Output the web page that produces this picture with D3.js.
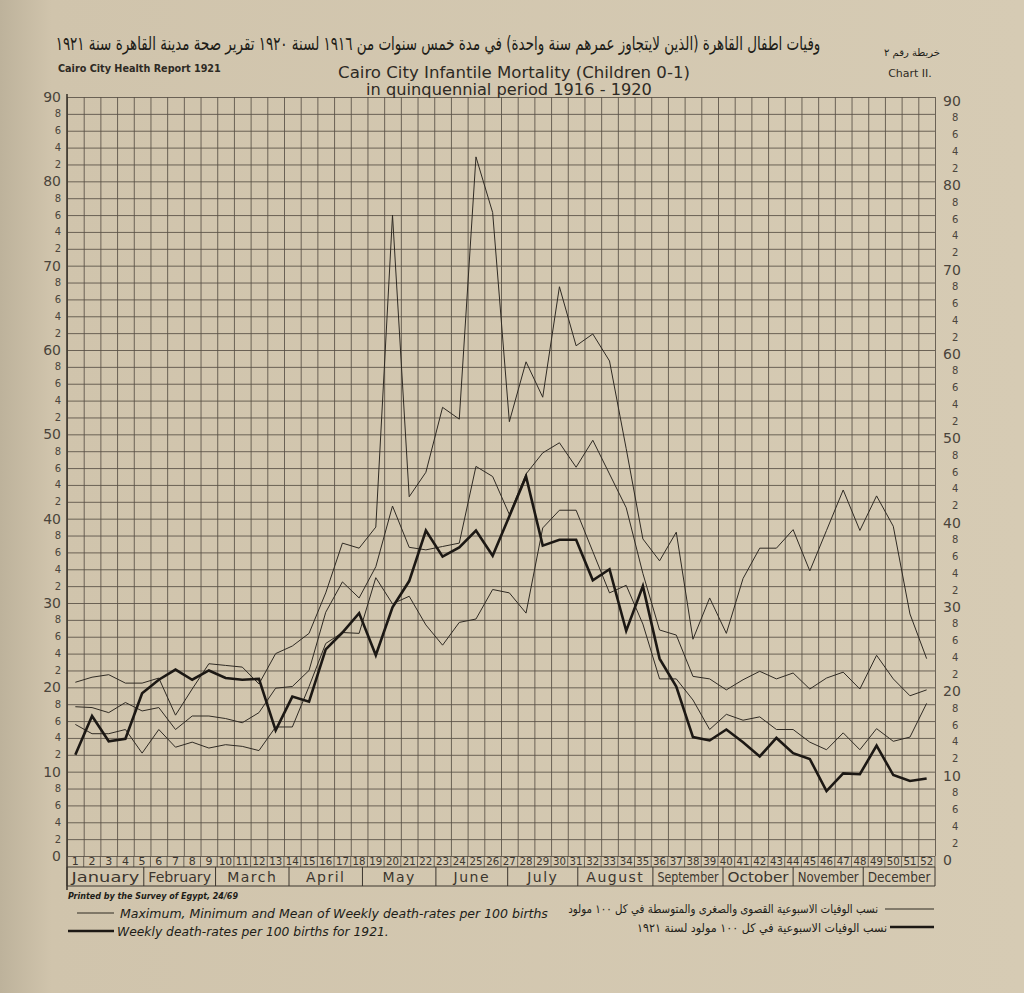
<!DOCTYPE html>
<html>
<head>
<meta charset="utf-8">
<script src="https://cdn.jsdelivr.net/npm/d3@7/dist/d3.min.js"></script>
<style>
  body { margin: 0; background: #d3c7af; }
  svg { display: block; }
  .grid line { stroke: #574f45; stroke-width: 0.85; }
  .grid path { display: none; }
  .ylab { font-family: "DejaVu Sans", sans-serif; fill: #4a443b; }
  .wk { font-family: "DejaVu Sans", sans-serif; font-size: 11px; fill: #3c362e; }
  .mon { font-family: "DejaVu Sans", sans-serif; font-size: 14px; fill: #3c362e; }
  .ttl { font-family: "DejaVu Sans", sans-serif; fill: #2e2a24; }
  .ar { font-family: "DejaVu Sans", sans-serif; fill: #201c17; }
  .leg { font-family: "DejaVu Sans", sans-serif; font-style: italic; fill: #201c17; }
</style>
</head>
<body>
<script>
const W = 1024, H = 993;
const LEFT = 67, RIGHT = 935, TOP = 97, BOTTOM = 856;

// weekly death-rates per 100 births, weeks 1..52
var weeks = d3.range(1, 53);
var maxRate = [20.6, 21.2, 21.5, 20.5, 20.5, 21.1, 16.7, 19.8, 22.8, 22.6,
  22.4, 20.4, 24.0, 24.9, 26.4, 31.2, 37.1, 36.5, 39.0, 76.0,
  42.6, 45.5, 53.2, 51.8, 82.9, 76.3, 51.5, 58.6, 54.4, 67.5,
  60.5, 61.9, 58.7, 48.3, 37.6, 35.0, 38.4, 25.7, 30.6, 26.4,
  32.9, 36.5, 36.5, 38.7, 33.8, 38.6, 43.4, 38.6, 42.7, 39.1,
  28.7, 23.4];
var meanRate = [17.7, 17.6, 17.0, 18.2, 17.2, 17.6, 15.0, 16.6, 16.6, 16.3,
  15.8, 17.0, 19.9, 20.1, 22.0, 28.9, 32.5, 30.6, 34.3, 41.5,
  36.6, 36.3, 36.7, 37.1, 46.2, 45.0, 40.5, 45.3, 47.8, 49.0,
  46.1, 49.3, 45.3, 41.3, 33.5, 26.8, 26.2, 21.3, 21.0, 19.7,
  20.9, 21.9, 21.0, 21.7, 19.8, 21.1, 21.8, 19.8, 23.8, 21.0,
  19.0, 19.7];
var minRate = [15.6, 14.5, 14.5, 15.0, 12.2, 15.0, 12.9, 13.5, 12.8, 13.2,
  13.0, 12.5, 15.3, 15.3, 20.1, 25.2, 26.5, 26.4, 33.0, 29.9,
  30.8, 27.4, 25.0, 27.7, 28.1, 31.6, 31.2, 28.8, 38.9, 41.0,
  41.0, 36.1, 31.2, 32.1, 27.5, 21.0, 21.0, 18.5, 15.0, 16.8,
  16.1, 16.5, 15.0, 15.0, 13.5, 12.6, 14.6, 12.6, 15.1, 13.6,
  14.1, 18.1];
var rate1921 = [12.0, 16.6, 13.6, 13.9, 19.3, 20.9, 22.1, 20.9, 22.0, 21.1,
  20.9, 21.0, 14.9, 18.9, 18.3, 24.5, 26.5, 28.8, 23.8, 29.5,
  32.6, 38.6, 35.5, 36.6, 38.6, 35.6, 40.3, 45.0, 36.8, 37.5,
  37.5, 32.7, 34.0, 26.7, 32.0, 23.4, 20.1, 14.1, 13.7, 15.0,
  13.5, 11.8, 14.0, 12.2, 11.5, 7.7, 9.8, 9.7, 13.1, 9.6,
  8.9, 9.2];

var months = ["January", "February", "March", "April", "May", "June", "July",
  "August", "September", "October", "November", "December"];
// month boundaries on the week scale, as drawn on the chart
var monthEdges = [0, 4.6, 8.9, 13.3, 17.7, 22.1, 26.4, 30.6, 35.1, 39.3, 43.5, 47.7, 52];
var yTicks = d3.range(0, 91, 2);

var svg = d3.select("body").append("svg")
  .attr("width", W)
  .attr("height", H);

// squeeze a text horizontally (about its x) so it is no wider than w
var fit = (sel, w) => {
  sel.each(function (d, i) {
    var node = d3.select(this);
    var width = typeof w === "function" ? w(d, i) : w;
    var len = this.getComputedTextLength();
    var k = width / len;
    var x0 = +node.attr("x");
    node.attr("transform", `translate(${x0},0) scale(${k},1) translate(${-x0},0)`);
  });
  return sel;
};

// paper
var grad = svg.append("defs").append("linearGradient").attr("id", "paper");
grad.append("stop").attr("offset", "0%").attr("stop-color", "#bdb29b");
grad.append("stop").attr("offset", "5%").attr("stop-color", "#d0c4ac");
grad.append("stop").attr("offset", "100%").attr("stop-color", "#d6cbb4");
svg.append("rect").attr("width", W).attr("height", H).attr("fill", "url(#paper)");

var x = d3.scaleLinear().domain([0, 52]).range([LEFT, RIGHT]);
var y = d3.scaleLinear().domain([0, 90]).range([BOTTOM, TOP]);
var xc = w => x(w - 0.5);

// grid
svg.append("g")
  .attr("class", "grid")
  .attr("transform", `translate(0,${BOTTOM})`)
  .call(d3.axisBottom(x).tickValues(d3.range(0, 53)).tickSize(-(BOTTOM - TOP)).tickFormat(""));
svg.append("g")
  .attr("class", "grid")
  .attr("transform", `translate(${LEFT},0)`)
  .call(d3.axisLeft(y).tickValues(yTicks).tickSize(-(RIGHT - LEFT)).tickFormat(""));

svg.append("line")
  .attr("x1", LEFT).attr("x2", LEFT).attr("y1", TOP - 3).attr("y2", 890)
  .attr("stroke", "#3c362e").attr("stroke-width", 1.6);

// y labels on both sides
var lab = v => v % 10 === 0 ? String(v) : String(v % 10);
var fs = v => v % 10 === 0 ? 14 : 10;
svg.selectAll("text.yl")
  .data(yTicks)
  .enter()
  .append("text")
  .attr("class", "ylab yl")
  .attr("x", LEFT - 6)
  .attr("y", d => y(d))
  .attr("dy", "0.35em")
  .attr("text-anchor", "end")
  .attr("font-size", fs)
  .text(lab);
svg.selectAll("text.yr")
  .data(yTicks)
  .enter()
  .append("text")
  .attr("class", "ylab yr")
  .attr("x", d => d % 10 === 0 ? RIGHT + 8 : RIGHT + 17)
  .attr("y", d => y(d) + 4)
  .attr("dy", "0.35em")
  .attr("text-anchor", "start")
  .attr("font-size", fs)
  .text(lab);

// week row
var WK_TOP = BOTTOM, WK_BOT = 867, MON_BOT = 886;
svg.selectAll("line.wkb")
  .data(d3.range(0, 53))
  .enter()
  .append("line")
  .attr("x1", d => x(d)).attr("x2", d => x(d))
  .attr("y1", WK_TOP).attr("y2", WK_BOT)
  .attr("stroke", "#574f45").attr("stroke-width", 0.85);
svg.selectAll("text.wk")
  .data(weeks)
  .enter()
  .append("text")
  .attr("class", "wk")
  .attr("x", d => xc(d))
  .attr("y", WK_BOT - 2)
  .attr("text-anchor", "middle")
  .text(d => d)
  .filter(d => d > 9)
  .call(fit, 13);

// month row
svg.append("line")
  .attr("x1", LEFT).attr("x2", RIGHT).attr("y1", WK_BOT).attr("y2", WK_BOT)
  .attr("stroke", "#3c362e").attr("stroke-width", 1);
svg.append("line")
  .attr("x1", LEFT).attr("x2", RIGHT).attr("y1", MON_BOT).attr("y2", MON_BOT)
  .attr("stroke", "#3c362e").attr("stroke-width", 1.2);
svg.selectAll("line.mb")
  .data(monthEdges)
  .enter()
  .append("line")
  .attr("x1", d => x(d)).attr("x2", d => x(d))
  .attr("y1", WK_BOT).attr("y2", MON_BOT)
  .attr("stroke", "#3c362e").attr("stroke-width", 1);
var cellW = i => x(monthEdges[i + 1]) - x(monthEdges[i]);
svg.selectAll("text.mon")
  .data(months)
  .enter()
  .append("text")
  .attr("class", "mon")
  .attr("x", (d, i) => (x(monthEdges[i]) + x(monthEdges[i + 1])) / 2)
  .attr("y", MON_BOT - 4)
  .attr("text-anchor", "middle")
  .attr("letter-spacing", d => d.length <= 6 ? "1.5px" : null)
  .text(d => d)
  .filter(d => d.length >= 7)
  .call(fit, (d) => cellW(months.indexOf(d)) - 9);

// series
var line = d3.line().x((d, i) => xc(weeks[i])).y(d => y(d));
[maxRate, meanRate, minRate].forEach(s => {
  svg.append("path")
    .datum(s)
    .attr("d", line)
    .attr("fill", "none")
    .attr("stroke", "#2f2a23")
    .attr("stroke-width", 1)
    .attr("stroke-linejoin", "miter");
});
svg.append("path")
  .datum(rate1921)
  .attr("d", line)
  .attr("fill", "none")
  .attr("stroke", "#1c1814")
  .attr("stroke-width", 2.6)
  .attr("stroke-linejoin", "miter");

// titles
svg.append("text").attr("class", "ar")
  .attr("x", 438).attr("y", 50).attr("text-anchor", "middle")
  .attr("font-size", 19).attr("direction", "rtl")
  .text("وفيات اطفال القاهرة (الذين لايتجاوز عمرهم سنة واحدة) في مدة خمس سنوات من ١٩١٦ لسنة ١٩٢٠ تقرير صحة مدينة القاهرة سنة ١٩٢١")
  .call(fit, 765);
svg.append("text").attr("class", "ar")
  .attr("x", 912).attr("y", 56).attr("text-anchor", "middle")
  .attr("font-size", 10).attr("direction", "rtl")
  .text("خريطة رقم ٢");
svg.append("text").attr("class", "ttl")
  .attr("x", 58).attr("y", 72).attr("font-size", 11).attr("font-weight", "bold")
  .text("Cairo City Health Report 1921")
  .call(fit, 163);
svg.append("text").attr("class", "ttl")
  .attr("x", 910).attr("y", 77).attr("font-size", 11).attr("text-anchor", "middle")
  .text("Chart II.");
svg.append("text").attr("class", "ttl")
  .attr("x", 514).attr("y", 78).attr("font-size", 16).attr("text-anchor", "middle")
  .text("Cairo City Infantile Mortality (Children 0-1)")
  .call(fit, 352);
svg.append("text").attr("class", "ttl")
  .attr("x", 509).attr("y", 95).attr("font-size", 16).attr("text-anchor", "middle")
  .text("in quinquennial  period 1916 - 1920")
  .call(fit, 286);

// footer and legend
svg.append("text").attr("class", "leg")
  .attr("x", 68).attr("y", 899).attr("font-size", 8).attr("font-weight", "bold")
  .text("Printed by the Survey of Egypt, 24/69");
svg.append("line").attr("x1", 77).attr("x2", 114).attr("y1", 913).attr("y2", 913)
  .attr("stroke", "#2f2a23").attr("stroke-width", 1);
svg.append("text").attr("class", "leg")
  .attr("x", 120).attr("y", 918).attr("font-size", 12.5)
  .text("Maximum, Minimum and Mean of Weekly  death-rates per 100 births")
  .call(fit, 428);
svg.append("line").attr("x1", 68).attr("x2", 114).attr("y1", 931).attr("y2", 931)
  .attr("stroke", "#1c1814").attr("stroke-width", 2.6);
svg.append("text").attr("class", "leg")
  .attr("x", 117).attr("y", 936).attr("font-size", 12.5)
  .text("Weekly death-rates per 100 births for 1921.")
  .call(fit, 272);

svg.append("line").attr("x1", 885).attr("x2", 934).attr("y1", 909).attr("y2", 909)
  .attr("stroke", "#2f2a23").attr("stroke-width", 1);
svg.append("text").attr("class", "ar")
  .attr("x", 878).attr("y", 913).attr("font-size", 12).attr("text-anchor", "start")
  .attr("direction", "rtl")
  .text("نسب الوفيات الاسبوعية القصوى والصغرى والمتوسطة في كل ١٠٠ مولود")
  .call(fit, 310);
svg.append("line").attr("x1", 890).attr("x2", 934).attr("y1", 927).attr("y2", 927)
  .attr("stroke", "#1c1814").attr("stroke-width", 2.6);
svg.append("text").attr("class", "ar")
  .attr("x", 887).attr("y", 932).attr("font-size", 12).attr("text-anchor", "start")
  .attr("direction", "rtl")
  .text("نسب الوفيات الاسبوعية في كل ١٠٠ مولود لسنة ١٩٢١")
  .call(fit, 250);
</script>
</body>
</html>
